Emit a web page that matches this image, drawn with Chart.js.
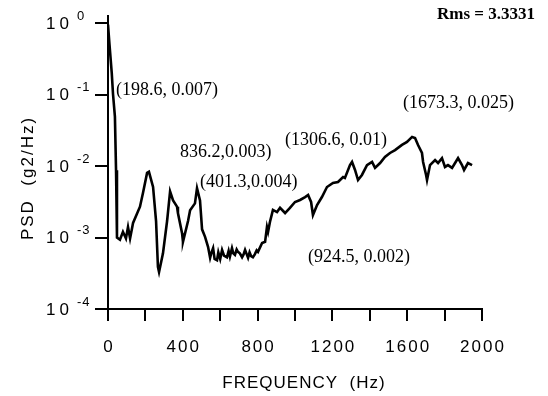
<!DOCTYPE html>
<html>
<head>
<meta charset="utf-8">
<script src="https://cdn.jsdelivr.net/npm/chart.js@4"></script>
<style>
  html, body { margin: 0; padding: 0; background: #fff; }
  #wrap { width: 548px; height: 396px; }
</style>
</head>
<body>
<div id="wrap"><canvas id="psdChart" width="548" height="396"></canvas></div>
<script>
// frequency (Hz) and PSD (g2/Hz)
const freq = [
  0, 8, 20, 27, 37, 43, 48, 64, 80, 96, 107, 118, 134, 171, 187, 209, 219, 241, 257, 267, 273,
  294, 316, 332, 348, 369, 374, 396, 401, 428, 439, 465, 476, 492, 503, 519, 535,
  546, 552, 562, 570, 583, 590, 600, 610, 620, 636, 645, 652, 663, 670, 679, 688, 695, 705,
  717, 725, 733, 740, 749, 757, 765, 775, 785, 795, 802,
  824, 840, 850, 856, 866, 882, 904, 920, 947, 973, 1000, 1027, 1054, 1070, 1086, 1096, 1118,
  1144, 1171, 1203, 1230, 1257, 1267, 1294, 1305, 1321, 1337, 1358, 1385, 1412, 1428, 1455,
  1481, 1508, 1535, 1572, 1599, 1626, 1642, 1658, 1679, 1685, 1701, 1706, 1722, 1749, 1765,
  1786, 1802, 1818, 1840, 1856, 1872, 1893, 1904, 1925, 1947
];
const psd = [
  0.95, 0.5, 0.2, 0.1, 0.049, 0.0087, 0.001, 0.00093, 0.0012, 0.00097, 0.0014, 0.00097, 0.0016,
  0.0027, 0.0042, 0.008, 0.0083, 0.0051, 0.0017, 0.00039, 0.00033,
  0.0006, 0.0017, 0.0044, 0.0033, 0.0027, 0.0022, 0.00115, 0.00087, 0.0017, 0.0024, 0.003,
  0.0049, 0.0033, 0.0013, 0.00102, 0.00074,
  0.00052, 0.0006, 0.00071, 0.0005, 0.00048, 0.00062, 0.0005, 0.00067, 0.00056, 0.00053,
  0.00065, 0.00054, 0.00071, 0.0006, 0.00057, 0.00068, 0.00063, 0.0006,
  0.00053, 0.00058, 0.00067, 0.0006, 0.00052, 0.00062, 0.00055, 0.00053, 0.00058, 0.00066, 0.00063,
  0.00084, 0.00087, 0.0014, 0.0012, 0.00165, 0.00243, 0.00227, 0.0026, 0.0022, 0.0026, 0.00314,
  0.00335, 0.00368, 0.00393, 0.00314, 0.00206, 0.00285,
  0.00368, 0.00508, 0.00578, 0.00597, 0.00702, 0.0068, 0.0103, 0.0114, 0.0088, 0.00637, 0.0075,
  0.0103, 0.0114, 0.0094, 0.011,
  0.0134, 0.0152, 0.0167, 0.0197, 0.0217, 0.0255, 0.0246, 0.0197, 0.0152, 0.0114, 0.0075, 0.00637,
  0.0103, 0.0121, 0.011,
  0.0129, 0.0097, 0.0103, 0.0094, 0.011, 0.0129, 0.0103, 0.0088, 0.011, 0.0103
];

const xTickLabels = [0, 400, 800, 1200, 1600, 2000];
const yTickValues = [1, 0.1, 0.01, 0.001, 0.0001];
const yTickExps = ['0', '-1', '-2', '-3', '-4'];

const notes = [
  { text: '(198.6, 0.007)', x: 116, y: 90 },
  { text: '836.2,0.003)', x: 180, y: 152 },
  { text: '(401.3,0.004)', x: 200, y: 182 },
  { text: '(1306.6, 0.01)', x: 285, y: 140 },
  { text: '(1673.3, 0.025)', x: 403, y: 103 },
  { text: '(924.5, 0.002)', x: 308, y: 257 }
];

// tick marks and text drawn by hand so they look like the scan
const labelPlugin = {
  id: 'labels',
  afterDraw(chart) {
    const ctx = chart.ctx;
    const xs = chart.scales.x;
    const ys = chart.scales.y;
    const left = ys.right;
    const bottom = xs.top;
    ctx.save();
    ctx.fillStyle = '#000';

    // outward tick marks
    xs.ticks.forEach(t => {
      const px = Math.round(xs.getPixelForValue(t.value));
      ctx.fillRect(px - 1, bottom, 2, 12);
    });
    yTickValues.forEach(v => {
      const py = Math.round(ys.getPixelForValue(v));
      ctx.fillRect(left - 13, py - 1, 14, 2);
    });
    // y axis runs a little past the top decade
    ctx.fillRect(left - 1, ys.top - 8, 2, 8);

    // x tick labels
    ctx.font = '17px "Liberation Sans", Arial, sans-serif';
    ctx.letterSpacing = '2px';
    ctx.textAlign = 'center';
    ctx.textBaseline = 'middle';
    xTickLabels.forEach(v => {
      ctx.fillText(String(v), xs.getPixelForValue(v) + 1, 347);
    });

    // y tick labels 10^n
    ctx.textAlign = 'left';
    yTickValues.forEach((v, i) => {
      const py = ys.getPixelForValue(v);
      ctx.font = '17px "Liberation Sans", Arial, sans-serif';
      ctx.letterSpacing = '4px';
      ctx.fillText('10', 46, py + 1);
      ctx.font = '13px "Liberation Sans", Arial, sans-serif';
      ctx.letterSpacing = '1px';
      ctx.fillText(yTickExps[i], 77, py - 7);
    });

    // axis titles
    ctx.font = '17px "Liberation Sans", Arial, sans-serif';
    ctx.letterSpacing = '1px';
    ctx.textAlign = 'center';
    ctx.fillText('FREQUENCY  (Hz)', 304, 383);
    ctx.save();
    ctx.translate(28, 178);
    ctx.rotate(-Math.PI / 2);
    ctx.letterSpacing = '2px';
    ctx.fillText('PSD  (g2/Hz)', 0, 0);
    ctx.restore();

    // peak notes
    ctx.letterSpacing = '0px';
    ctx.textAlign = 'left';
    ctx.font = '18px "Liberation Serif", "Times New Roman", serif';
    notes.forEach(n => ctx.fillText(n.text, n.x, n.y));

    ctx.font = 'bold 17px "Liberation Serif", "Times New Roman", serif';
    ctx.fillText('Rms = 3.3331', 437, 15);
    ctx.restore();
  }
};

new Chart(document.getElementById('psdChart'), {
  type: 'line',
  data: {
    datasets: [{
      data: freq.map((f, i) => ({ x: f, y: psd[i] })),
      borderColor: '#000',
      borderWidth: 2.6,
      pointRadius: 0,
      tension: 0,
      fill: false
    }]
  },
  options: {
    responsive: false,
    animation: false,
    layout: { padding: { left: 0, right: 66, top: 23, bottom: 0 } },
    plugins: { legend: { display: false }, tooltip: { enabled: false } },
    scales: {
      x: {
        type: 'linear',
        min: 0,
        max: 2000,
        ticks: { stepSize: 200, display: false },
        grid: { display: false },
        border: { display: true, color: '#000', width: 2 },
        afterFit(scale) { scale.height = 87; }
      },
      y: {
        type: 'logarithmic',
        min: 0.0001,
        max: 1,
        afterBuildTicks(scale) { scale.ticks = yTickValues.map(v => ({ value: v })); },
        ticks: { display: false },
        grid: { display: false },
        border: { display: true, color: '#000', width: 2 },
        afterFit(scale) { scale.width = 108; }
      }
    }
  },
  plugins: [labelPlugin]
});
</script>
</body>
</html>
